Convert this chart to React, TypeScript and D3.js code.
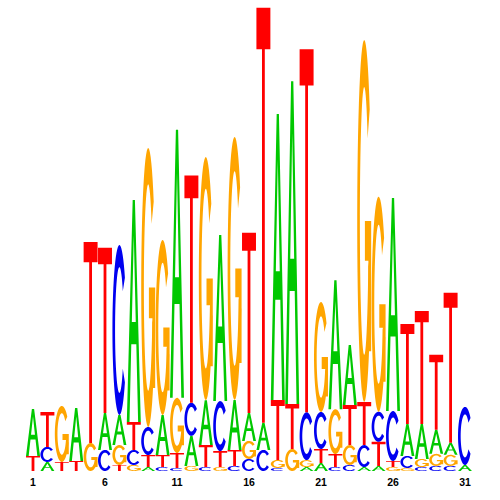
import React from 'react';
import * as d3 from 'd3';

const positions = [1,2,3,4,5,6,7,8,9,10,11,12,13,14,15,16,17,18,19,20,21,22,23,24,25,26,27,28,29,30,31];
const tickPositions = [1, 6, 11, 16, 21, 26, 31];
const tickLabels = ['1', '6', '11', '16', '21', '26', '31'];

// information content (bits) per base per position
const aBits = [0.203,0.039,0,0.229,0,0.160,0.130,0.959,0.017,0.173,1.158,0.130,0.194,0.717,0.216,0.121,0.117,1.235,1.395,0.017,0.035,0.557,0.259,0.017,0.022,0.920,0.138,0.151,0.104,0.052,0.026];
const cBits = [0,0.065,0,0,0,0.091,0.734,0.065,0.121,0.017,0.013,0.143,0.017,0.216,0.022,0.052,0.091,0.013,0,0.207,0.160,0.017,0.026,0.095,0.130,0.216,0.052,0.017,0.022,0.022,0.251];
const gBits = [0,0,0.242,0,0.121,0,0.086,0.026,1.205,0.756,0.238,0.022,1.050,0.017,1.136,0.078,0,0.035,0.095,0.030,0.475,0.194,0.086,1.564,0.929,0.017,0.013,0.035,0.052,0.048,0];
const tBits = [0.065,0.151,0.039,0.043,0.868,0.713,0.026,0.121,0.052,0.052,0.065,0.981,0.095,0.069,0.069,0.778,1.793,0.259,0.194,1.568,0.060,0.056,0.173,0.186,0.104,0.026,0.432,0.488,0.324,0.648,0];

const bases = ['A', 'C', 'G', 'T'];
const baseColors: Record<string, string> = { A: '#00c800', C: '#0000f0', G: '#ffa500', T: '#ff0000' };

type Shape = { d: string; rule?: 'evenodd' | 'nonzero' };

function poly(pts: number[][], x: number, y: number, w: number, h: number) {
  return 'M' + pts.map(([u, v]) => `${(x + u * w).toFixed(2)},${(y + v * h).toFixed(2)}`).join('L') + 'Z';
}

function ringPts(a0: number, a1: number, rxo: number, ryo: number, rxi: number, ryi: number) {
  const n = 48;
  const outer: number[][] = [];
  const inner: number[][] = [];
  for (let i = 0; i <= n; i++) {
    const a = ((a0 + (a1 - a0) * (i / n)) * Math.PI) / 180;
    outer.push([0.5 + rxo * Math.cos(a), 0.5 + ryo * Math.sin(a)]);
    inner.push([0.5 + rxi * Math.cos(a), 0.5 + ryi * Math.sin(a)]);
  }
  return outer.concat(inner.reverse());
}

function glyph(letter: string, x: number, y: number, w: number, h: number): Shape[] {
  if (letter === 'T') {
    const bar = 0.1;
    return [{ d: poly([[0, 0], [1, 0], [1, bar], [0.6, bar], [0.6, 1], [0.4, 1], [0.4, bar], [0, bar]], x, y, w, h) }];
  }
  if (letter === 'A') {
    const outer = [[0, 1], [0.42, 0], [0.58, 0], [1, 1], [0.81, 1], [0.68, 0.65], [0.32, 0.65], [0.19, 1]];
    const hole = [[0.5, 0.16], [0.64, 0.55], [0.36, 0.55]];
    return [{ d: poly(outer, x, y, w, h) + poly(hole, x, y, w, h), rule: 'evenodd' }];
  }
  if (letter === 'C') {
    return [{ d: poly(ringPts(38, 322, 0.5, 0.5, 0.31, 0.37), x, y, w, h) }];
  }
  // G
  return [
    { d: poly(ringPts(18, 322, 0.5, 0.5, 0.31, 0.37), x, y, w, h) },
    { d: poly([[0.55, 0.5], [1, 0.5], [1, 0.86], [0.8, 0.86], [0.8, 0.61], [0.55, 0.61]], x, y, w, h) },
  ];
}

export default function App() {
  const width = 500;
  const height = 500;
  const x = d3.scaleBand<number>().domain(positions).range([25.8, 472.2]).paddingInner(0.03).paddingOuter(0.015);
  const y = d3.scaleLinear().domain([0, 2]).range([471, 8]);
  const values: Record<string, number[]> = { A: aBits, C: cBits, G: gBits, T: tBits };

  const marks: { key: string; color: string; shapes: Shape[] }[] = [];
  positions.forEach((p, i) => {
    const col = bases
      .map((b) => ({ b, v: values[b][i] }))
      .filter((e) => e.v > 0)
      .sort((a, b) => a.v - b.v);
    let cum = 0;
    col.forEach((e) => {
      const top = y(cum + e.v);
      const bottom = y(cum);
      cum += e.v;
      const h = bottom - top;
      if (h < 0.4) return;
      marks.push({
        key: `${p}-${e.b}`,
        color: baseColors[e.b],
        shapes: glyph(e.b, x(p)!, top, x.bandwidth(), h),
      });
    });
  });

  return (
    <svg width={width} height={height} style={{ position: 'absolute', left: 0, top: 0, background: '#fff' }}>
      {marks.map((m) => (
        <g key={m.key} fill={m.color}>
          {m.shapes.map((s, j) => (
            <path key={j} d={s.d} fillRule={s.rule || 'nonzero'} />
          ))}
        </g>
      ))}
      {tickPositions.map((p, i) => (
        <text
          key={p}
          x={x(p)! + x.bandwidth() / 2}
          y={486}
          textAnchor="middle"
          fontFamily="Liberation Sans, Arial, sans-serif"
          fontWeight="bold"
          fontSize={10.5}
          fill="#000"
        >
          {tickLabels[i]}
        </text>
      ))}
    </svg>
  );
}
